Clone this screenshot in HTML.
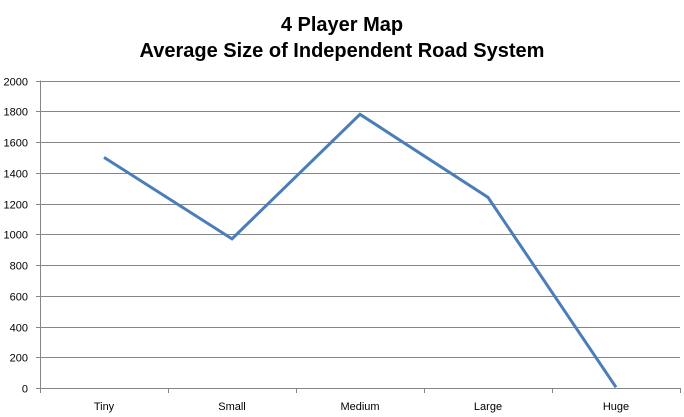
<!DOCTYPE html>
<html><head><meta charset="utf-8"><style>
body{margin:0;background:#fff;width:684px;height:417px;overflow:hidden}
svg{display:block;font-family:"Liberation Sans",sans-serif}
</style></head><body>
<svg id="chart" width="684" height="417">
<text x="342" y="31" text-anchor="middle" font-size="20" font-weight="bold" fill="#000">4 Player Map</text>
<text x="342" y="57" text-anchor="middle" font-size="20" font-weight="bold" fill="#000">Average Size of Independent Road System</text>
<g id="grid"></g><g id="axes"></g><g id="series"></g>
</svg>
<script>
const categories=["Tiny","Small","Medium","Large","Huge"];
const values=[1500,970,1780,1240,5];
const yTicks=[0,200,400,600,800,1000,1200,1400,1600,1800,2000];
const ns="http://www.w3.org/2000/svg";
const L=40,R=680,T=80.5,B=388,YMAX=2000;
const xs=i=>L+(R-L)/categories.length*(i+0.5);
const ys=v=>B-(B-T)*v/YMAX;
function mk(t,a,p){const e=document.createElementNS(ns,t);for(const k in a)e.setAttribute(k,a[k]);p.appendChild(e);return e;}
const grid=document.getElementById('grid'),axes=document.getElementById('axes'),ser=document.getElementById('series');
yTicks.forEach(v=>{
 const y=Math.round(ys(v))+0.5;
 const ln=mk('line',{x1:L-4,x2:R,y1:y,y2:y,stroke:'#868686','stroke-width':1},grid);
 
 
 const tx=mk('text',{x:L-12,y:y+4,'text-anchor':'end','font-size':11,fill:'#000'},axes);
 tx.textContent=v;
 
 
});
const ya=mk('line',{x1:L+0.5,x2:L+0.5,y1:T,y2:B+0.5,stroke:'#868686'},axes);


for(let i=0;i<=categories.length;i++){
 const x=Math.round(L+(R-L)/categories.length*i)+0.5;
 const tk=mk('line',{x1:x,x2:x,y1:B,y2:B+5,stroke:'#868686'},axes);
 
 
}
categories.forEach((c,i)=>{
 const tx=mk('text',{x:xs(i),y:410,'text-anchor':'middle','font-size':11,fill:'#000'},axes);
 tx.textContent=c;
 
 
});
const pts=values.map((v,i)=>xs(i)+','+ys(v)).join(' ');
const pl=mk('polyline',{points:pts,fill:'none',stroke:'#4a7ebb','stroke-width':3,'stroke-linejoin':'miter'},ser);


</script>
</body></html>
